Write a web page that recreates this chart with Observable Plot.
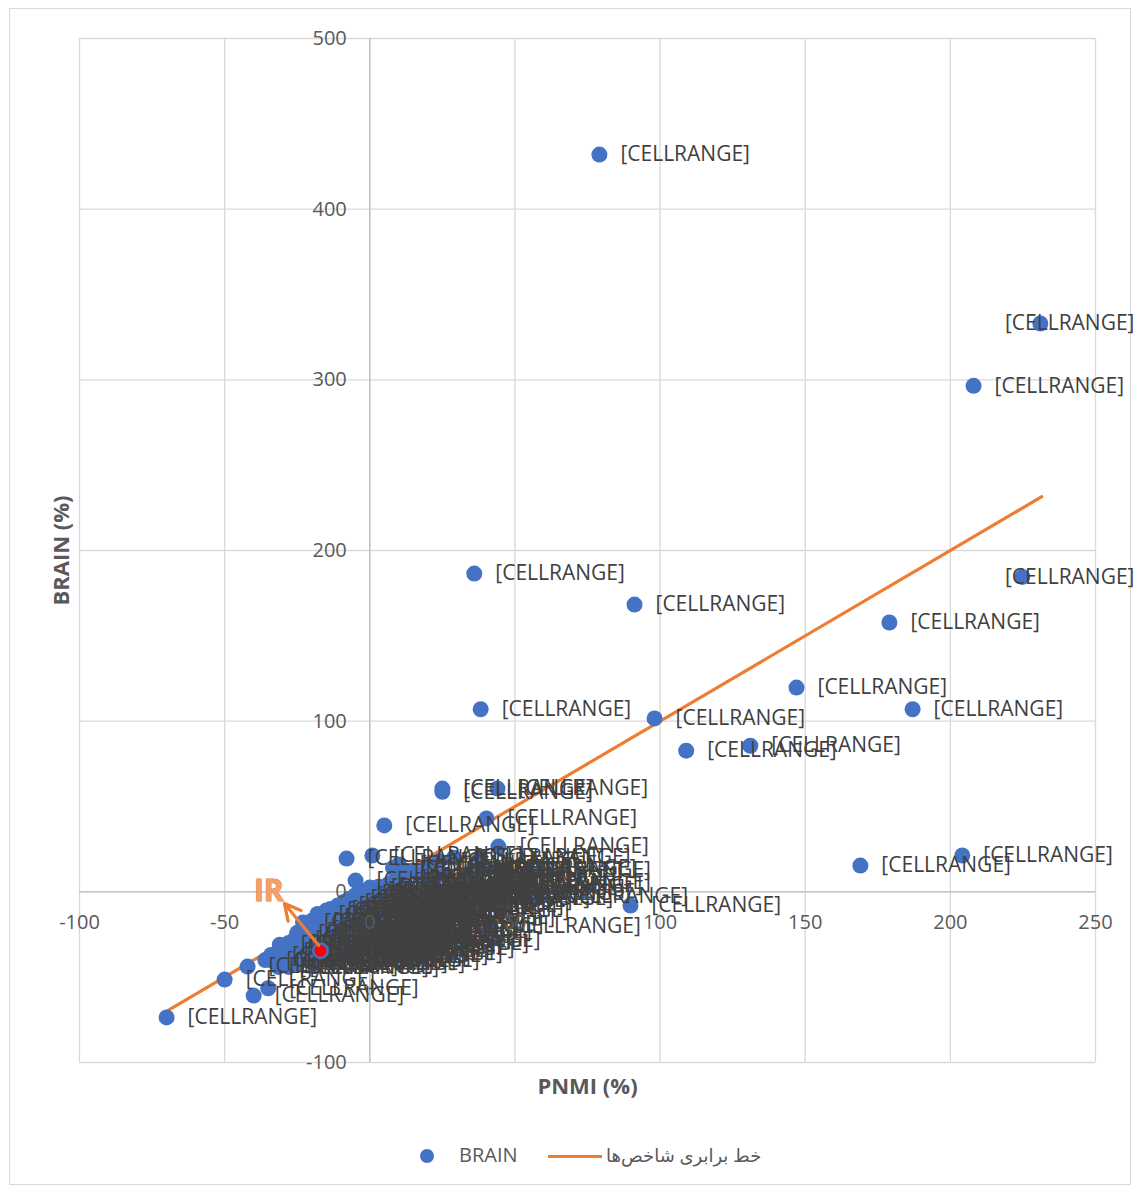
<!DOCTYPE html>
<html>
<head>
<meta charset="utf-8">
<script src="https://cdn.jsdelivr.net/npm/d3@7"></script>
<script src="https://cdn.jsdelivr.net/npm/@observablehq/plot@0.6"></script>
<style>
  body { margin: 0; background: #fff; font-family: "Open Sans", "DejaVu Sans", sans-serif; }
  #wrap { position: relative; width: 1140px; height: 1189px; overflow: hidden; }
  #frame { position: absolute; left: 9px; top: 8px; width: 1122px; height: 1177px; border: 1px solid #d9d9d9; box-sizing: border-box; pointer-events: none; }
  #chart { position: absolute; left: 0; top: 0; }
  .leg { position: absolute; font-size: 20px; color: #595959; line-height: 1; white-space: nowrap; }
</style>
</head>
<body>
<div id="wrap">
  <div id="frame"></div>
  <div id="chart"></div>
  <div class="leg" style="left:420px; top:1149px; width:14px; height:14px; border-radius:50%; background:#4472C4;"></div>
  <div class="leg" style="left:459px; top:1145px;">BRAIN</div>
  <div class="leg" style="left:548px; top:1155px; width:54px; height:3px; background:#ED7D31;"></div>
  <div class="leg" style="left:606px; top:1146px; font-size:18px;" dir="rtl">خط برابری شاخص‌ها</div>
</div>
<script>
// ---- data ----
const pnmi = [
  79.1, 231, 208, 224.8, 179, 36, 91.2, 147, 187, 38.2, 98.1, 109, 131.1,
  25, 25, 44, 40.2, 5, -8, 0.9, -4.9, 44.3, 169, 204.1, 89.8, 57.8,
  -70, -50, -42.1, -40, -35, -31.5, 45, 29, 35, 15, 45, 41.5, 17, 7,
  -36, -34, -33, -31, -30, -29, -28, -27, -26, -25, -24, -23, -23, -22, -21, -20, -20, -19,
  -18, -17, -16, -15, -14, -13.5, -12, -11, -10, -9, -8, -7, -6, -5, -4, -3, -2, -1, 0, 0,
  1, 2, 3, 4, 6, 8, 10, 12,
  -30, -28, -27, -25, -24, -22, -21, -20, -19, -18, -17, -16, -15, -14, -13, -12, -11, -10,
  -10, -9, -8, -7, -6, -5, -5, -6, -3, -2, -1, 0, -2, 1, 2, 2, 4, 4, 3, 6, 7, 8, 9,
  11, 12, 13, 15, 18, 20, 24, 28, 32, 36, 38, 42,
  22, 26, 30, 33, 18, 20, 24, 12, 8, 40, 38, 10
];
const brain = [
  432, 333, 296.5, 184.5, 157.8, 186.5, 168.3, 119.7, 107, 107, 101.6, 82.7, 85.6,
  60.5, 58.6, 60.5, 43, 38.9, 19.5, 21.3, 6.6, 26.5, 15.4, 21.3, -8, -2.8,
  -73.6, -51.4, -43.8, -60.8, -56.5, -44, 12.5, 20, 12.5, 12.5, 5.5, -20, -11, -28.5,
  -40, -37, -41, -31, -35, -37, -30, -34, -28, -24, -30, -18, -26, -23, -27, -17, -22, -25,
  -13, -20, -15, -11, -18, -10, -14, -8, -12, -6, -10, -4, -8, -2, -6, -1, -4, 1, -3, 2.5,
  0, -2, 3, 1, 4, 6, 8, 5,
  -42, -44, -39, -42, -36, -40, -33, -38, -42, -30, -38, -26, -34, -40, -24, -31, -37, -20,
  -27, -34, -16, -25, -31, -12, -20, -36, -28, -15, -22, -8, -33, -26, -12, -18, -6, -23, -30, -14, -2, -19, -9,
  -4, -15, -1, -8, -5, -1, -4, -1, -4, 2, -1, 4,
  6, 10, 4, 8, 9, 15, 18, 12, 14, 14, 20, 16
];
const labelText = "[CELLRANGE]";
const irPoint = { x: -17, y: -34.5 };
const irArrow = { x1: -17.6, y1: -31.4, x2: -29.4, y2: -6.8 };
const irText = { x: -34.8, y: 0, text: "IR" };
const eqX = [-70.5, 231.5];
const eqY = [-70.5, 231.5];
const xTicks = [-100, -50, 0, 50, 100, 150, 200, 250];
const yTicks = [-100, 0, 100, 200, 300, 400, 500];
const xTitle = "PNMI (%)";
const yTitle = "BRAIN (%)";

const points = pnmi.map((x, i) => ({ x, y: brain[i] }));
const eqLine = eqX.map((x, i) => ({ x, y: eqY[i] }));
const edge = 215;

const blue = "#4472C4", orange = "#ED7D31", grid = "#d9d9d9", axisCol = "#bfbfbf", tickCol = "#595959";

const chart = Plot.plot({
  width: 1140,
  height: 1110,
  marginLeft: 79,
  marginRight: 45,
  marginTop: 38,
  marginBottom: 48,
  style: { fontFamily: "'Open Sans', 'DejaVu Sans', sans-serif", background: "transparent" },
  x: { domain: [-100, 250], axis: null },
  y: { domain: [-100, 500], axis: null },
  marks: [
    Plot.ruleX(xTicks, { stroke: grid, strokeWidth: 1.3 }),
    Plot.ruleY(yTicks, { stroke: grid, strokeWidth: 1.3 }),
    Plot.ruleX([0], { stroke: axisCol, strokeWidth: 1.3 }),
    Plot.ruleY([0], { stroke: axisCol, strokeWidth: 1.3 }),
    Plot.line(eqLine, { x: "x", y: "y", stroke: orange, strokeWidth: 3.2, strokeLinecap: "round" }),
    Plot.dot(points, { x: "x", y: "y", r: 8, fill: blue, stroke: "none" }),
    Plot.text(points.filter(d => d.x <= edge), {
      x: "x", y: "y", text: () => labelText, dx: 21, textAnchor: "start",
      lineAnchor: "middle", fontSize: 21, fill: "#404040"
    }),
    Plot.text(points.filter(d => d.x > edge), {
      x: () => 250, y: "y", text: () => labelText, dx: 39, textAnchor: "end",
      lineAnchor: "middle", fontSize: 21, fill: "#404040"
    }),
    Plot.dot([irPoint], { x: "x", y: "y", r: 8.5, fill: blue }),
    Plot.dot([irPoint], { x: "x", y: "y", r: 6, fill: "#ff0000" }),
    Plot.arrow([irArrow], {
      x1: "x1", y1: "y1", x2: "x2", y2: "y2", stroke: orange, strokeWidth: 3.2,
      headLength: 15, headAngle: 55
    }),
    Plot.text([irText], {
      x: "x", y: "y", text: "text", fontSize: 30, fontWeight: "bold",
      fill: "#f4a06a", stroke: orange, strokeWidth: 1, lineAnchor: "middle"
    }),
    Plot.text(xTicks, {
      x: d => d, y: () => 0, text: d => String(d), dy: 31, fontSize: 20,
      fill: tickCol, lineAnchor: "middle"
    }),
    Plot.text(yTicks, {
      x: () => 0, y: d => d, text: d => String(d), dx: -23, textAnchor: "end",
      fontSize: 20, fill: tickCol, lineAnchor: "middle"
    }),
    Plot.text([xTitle], {
      x: () => 75, y: () => -100, dy: 24, text: d => d, fontSize: 22,
      fontWeight: "bold", fill: tickCol, lineAnchor: "middle"
    }),
    Plot.text([yTitle], {
      x: () => -100, y: () => 200, dx: -18, rotate: -90, text: d => d,
      fontSize: 22, fontWeight: "bold", fill: tickCol, lineAnchor: "middle", textAnchor: "middle"
    })
  ]
});
document.getElementById("chart").appendChild(chart);
</script>
</body>
</html>
